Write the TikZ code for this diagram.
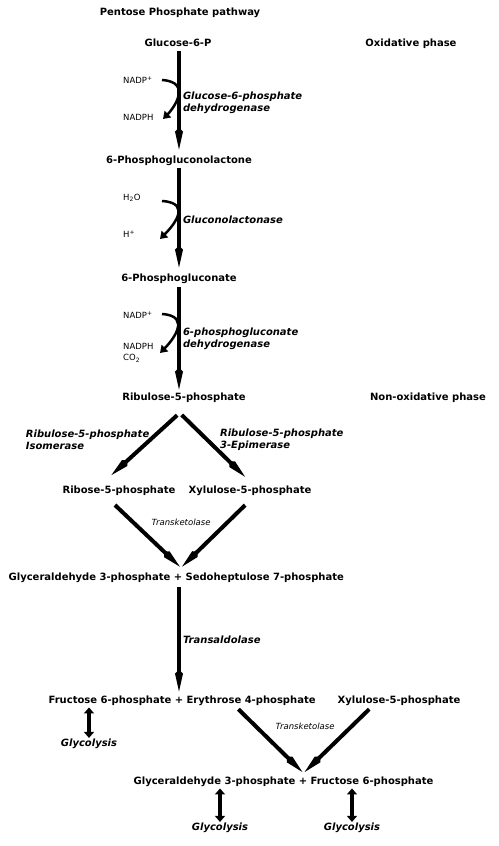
\documentclass[tikz,border=0pt]{standalone}
\usepackage{fontspec}
\setmainfont{DejaVu Sans}
\usetikzlibrary{arrows.meta,positioning}
\tikzset{
  metab/.style={font=\bfseries\fontsize{10}{12}\selectfont, inner sep=1.5pt, text height=7.5pt, text depth=2pt},
  enzyme/.style={font=\bfseries\itshape\fontsize{10}{12}\selectfont, align=left, inner sep=1pt},
  cofac/.style={font=\fontsize{8.5}{11}\selectfont, inner sep=0pt, align=left},
  tkase/.style={font=\itshape\fontsize{8.5}{10}\selectfont, inner sep=0pt},
  mainarrow/.style={line width=4pt, -{Kite[length=22pt,width=8pt,inset=4pt]}},
  sidearrow/.style={line width=2.5pt, -{Triangle[length=7pt,width=9pt]}},
  dblarrow/.style={line width=4pt, {Triangle[length=6pt,width=10pt]}-{Triangle[length=6pt,width=10pt]}},
}
\begin{document}
\begin{tikzpicture}[x=1pt, y=-1pt]
\useasboundingbox (0,0) rectangle (498,846);
\node[metab] (title) at (180,13) {Pentose Phosphate pathway};
% oxidative phase
\node[metab] (P_0_0) at (178,44) {Glucose-6-P};
\node[metab] (phase_ox) at (411,44) {Oxidative phase};
\node[metab] (P_1_0) at (179,161) {6-Phosphogluconolactone};
\draw[mainarrow, shorten <=1pt, shorten >=5pt] (P_1_0.north |- P_0_0.south) -- (P_1_0.north) node[midway, enzyme, right=1pt] {Glucose-6-phosphate\\dehydrogenase};
\node[cofac, anchor=west] (C_0_0) at (123,80) {NADP\textsuperscript{+}};
\node[cofac, anchor=west] (C_0_1) at (123,117) {NADPH};
\coordinate (S_0_0) at (162,80);
\coordinate (S_0_1) at (163,119);
\draw[sidearrow] (S_0_0) .. controls (193,82) and (173,109) .. (S_0_1);
\node[metab] (P_2_0) at (179,279) {6-Phosphogluconate};
\draw[mainarrow, shorten <=1pt, shorten >=5pt] (P_1_0) -- (P_2_0) node[midway, enzyme, right=1pt] {Gluconolactonase};
\node[cofac, anchor=west] (C_1_0) at (123,198) {H\textsubscript{2}O};
\node[cofac, anchor=west] (C_1_1) at (123,234) {H\textsuperscript{+}};
\coordinate (S_1_0) at (162,201);
\coordinate (S_1_1) at (160,239);
\draw[sidearrow] (S_1_0) .. controls (194,203) and (171,228) .. (S_1_1);
\node[metab] (P_3_0) at (184,398) {Ribulose-5-phosphate};
\draw[mainarrow, shorten <=2pt, shorten >=2pt] (P_2_0.south) -- (P_2_0.south |- P_3_0.north) node[midway, enzyme, right=1pt] {6-phosphogluconate\\dehydrogenase};
\node[cofac, anchor=west] (C_2_0) at (123,315) {NADP\textsuperscript{+}};
\node[cofac, anchor=north west] (C_2_1) at (123,343) {NADPH\\CO\textsubscript{2}};
\coordinate (S_2_0) at (162,314);
\coordinate (S_2_1) at (160,353);
\draw[sidearrow] (S_2_0) .. controls (193,316) and (171,342) .. (S_2_1);
% non-oxidative phase
\node[metab] (phase_nonox) at (428,398) {Non-oxidative phase};
\node[metab] (P_4_0) at (119,491) {Ribose-5-phosphate};
\node[metab] (P_4_1) at (250,491) {Xylulose-5-phosphate};
\draw[mainarrow, shorten <=16pt, shorten >=14pt] ([xshift=5pt]P_3_0.south) -- ([xshift=-18pt]P_4_0.north) node[pos=0.44, enzyme, anchor=east, xshift=2pt] {Ribulose-5-phosphate\\Isomerase};
\draw[mainarrow, shorten <=15pt, shorten >=11pt] ([xshift=-13pt]P_3_0.south) -- ([xshift=3pt]P_4_1.north) node[pos=0.44, enzyme, anchor=west, xshift=10pt] {Ribulose-5-phosphate\\3-Epimerase};
\node[metab] (P_5_1) at (178,578) {+};
\node[metab, left=0pt of P_5_1] (P_5_0) {Glyceraldehyde 3-phosphate};
\node[metab, right=0pt of P_5_1] (P_5_2) {Sedoheptulose 7-phosphate};
\draw[mainarrow, shorten <=11pt, shorten >=7pt] ([xshift=-12pt]P_4_0.south) -- ([xshift=7pt]P_5_1.north);
\draw[mainarrow, shorten <=11pt, shorten >=7pt] ([xshift=3pt]P_4_1.south) -- ([xshift=-1pt]P_5_1.north);
\node[tkase] (T_0) at (181,522) {Transketolase};
\node[metab] (P_6_1) at (179,701) {+};
\node[metab, left=0pt of P_6_1] (P_6_0) {Fructose 6-phosphate};
\node[metab, right=0pt of P_6_1] (P_6_2) {Erythrose 4-phosphate};
\node[metab] (P_6_3) at (399,701) {Xylulose-5-phosphate};
\draw[mainarrow, shorten <=3pt, shorten >=3pt] (P_6_1.north |- P_5_1.south) -- (P_6_1.north) node[midway, enzyme, right=1pt] {Transaldolase};
\node[enzyme] (G_0) at (89,744) {Glycolysis};
\draw[dblarrow] (G_0.north |- P_6_0.south) -- (G_0.north);
\node[metab] (P_7_1) at (303,782) {+};
\node[metab, left=0pt of P_7_1] (P_7_0) {Glyceraldehyde 3-phosphate};
\node[metab, right=0pt of P_7_1] (P_7_2) {Fructose 6-phosphate};
\draw[mainarrow, shorten <=2.5pt, shorten >=5pt] ([xshift=-14.5pt]P_6_2.south) -- ([xshift=3pt]P_7_1.north);
\draw[mainarrow, shorten <=2.5pt, shorten >=5pt] ([xshift=-28pt]P_6_3.south) -- ([xshift=-2pt]P_7_1.north);
\node[tkase] (T_1) at (305,726) {Transketolase};
\node[enzyme] (G_1) at (220,828) {Glycolysis};
\node[enzyme] (G_2) at (352,828) {Glycolysis};
\draw[dblarrow] (G_1.north |- P_7_0.south) -- (G_1.north);
\draw[dblarrow] (G_2.north |- P_7_2.south) -- (G_2.north);
\end{tikzpicture}
\end{document}
